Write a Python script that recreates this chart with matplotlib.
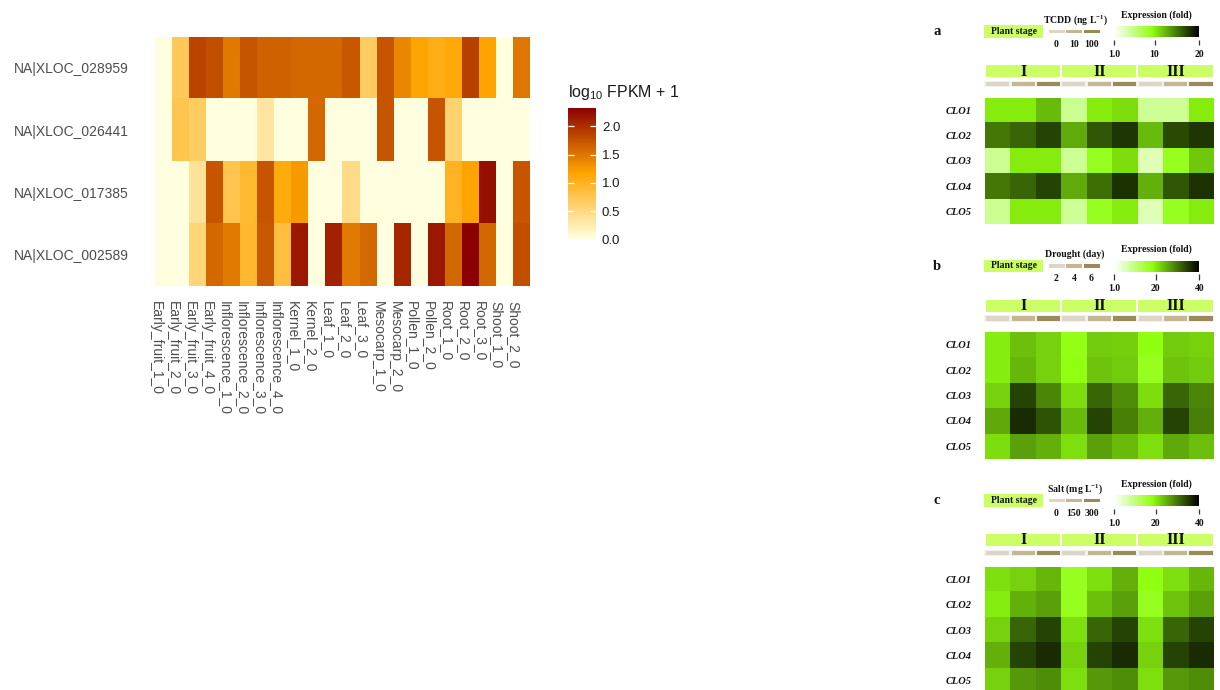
import numpy as np
import matplotlib
matplotlib.use("Agg")
import matplotlib.pyplot as plt
from matplotlib.colors import LinearSegmentedColormap, Normalize
from matplotlib.patches import Rectangle

plt.rcParams["font.family"] = ["Liberation Sans", "DejaVu Sans"]

# ---------------- tissue expression (log10 FPKM + 1) ----------------
samples = ["Early_fruit_1_0", "Early_fruit_2_0", "Early_fruit_3_0", "Early_fruit_4_0",
           "Inflorescence_1_0", "Inflorescence_2_0", "Inflorescence_3_0", "Inflorescence_4_0",
           "Kernel_1_0", "Kernel_2_0", "Leaf_1_0", "Leaf_2_0", "Leaf_3_0",
           "Mesocarp_1_0", "Mesocarp_2_0", "Pollen_1_0", "Pollen_2_0",
           "Root_1_0", "Root_2_0", "Root_3_0", "Shoot_1_0", "Shoot_2_0"]
genes = ["NA|XLOC_028959", "NA|XLOC_026441", "NA|XLOC_017385", "NA|XLOC_002589"]
xloc_028959 = [0.00, 0.70, 1.84, 1.76, 1.46, 1.72, 1.64, 1.64, 1.58, 1.58, 1.58,
               1.70, 0.66, 1.72, 1.36, 1.16, 1.05, 1.12, 1.87, 1.16, 0.00, 1.48]
xloc_026441 = [0.00, 0.75, 0.66, 0.00, 0.00, 0.00, 0.33, 0.00, 0.00, 1.59, 0.00,
               0.00, 0.00, 1.72, 0.00, 0.00, 1.72, 0.58, 0.00, 0.00, 0.00, 0.00]
xloc_017385 = [0.00, 0.00, 0.37, 1.72, 0.75, 0.91, 1.72, 1.08, 1.24, 0.00, 0.00,
               0.46, 0.00, 0.00, 0.00, 0.00, 0.00, 0.98, 1.16, 2.21, 0.00, 1.72]
xloc_002589 = [0.00, 0.00, 0.54, 1.59, 1.45, 0.91, 1.69, 0.83, 2.15, 0.00, 2.08,
               1.45, 1.59, 0.00, 2.04, 0.00, 2.15, 1.59, 2.32, 1.59, 0.00, 1.76]
legend_ticks = [0.0, 0.5, 1.0, 1.5, 2.0]

# ---------------- CLO fold-change panels ----------------
clo_genes = ["CLO1", "CLO2", "CLO3", "CLO4", "CLO5"]
stages = ["I", "II", "III"]
panel_letters = ["a", "b", "c"]
treatments = ["TCDD (ng L$\\mathregular{^{-1}}$)", "Drought (day)", "Salt (mg L$\\mathregular{^{-1}}$)"]
dose_labels = [["0", "10", "100"], ["2", "4", "6"], ["0", "150", "300"]]
fold_max = [20, 40, 40]
fold_ticks = [[1, 10, 20], [1, 20, 40], [1, 20, 40]]
fold_ticklabels = [["1.0", "10", "20"], ["1.0", "20", "40"], ["1.0", "20", "40"]]
tcdd_fold = [[10.3, 10.3, 12.3, 4.9, 10.3, 10.9, 4.8, 4.8, 10.3],
             [15.1, 15.8, 17.2, 13.0, 16.5, 17.7, 12.3, 16.9, 17.7],
             [4.9, 10.3, 10.3, 4.8, 9.0, 10.9, 3.6, 9.0, 11.8],
             [15.1, 15.8, 17.2, 13.0, 15.4, 17.9, 12.8, 16.5, 17.9],
             [4.9, 10.3, 10.3, 4.8, 9.0, 10.3, 3.6, 9.0, 10.3]]
drought_fold = [[20.0, 23.7, 22.2, 18.2, 22.8, 22.5, 18.5, 22.8, 22.2],
                [20.0, 24.5, 22.2, 18.4, 23.5, 22.8, 17.4, 23.5, 22.8],
                [22.2, 34.3, 28.6, 21.4, 31.4, 28.2, 21.4, 31.4, 28.6],
                [25.7, 36.2, 32.9, 24.3, 34.3, 29.2, 25.2, 34.3, 29.2],
                [21.4, 26.5, 25.2, 21.2, 26.5, 24.3, 21.2, 25.7, 23.9]]
salt_fold = [[21.2, 22.2, 24.5, 17.4, 21.2, 25.2, 18.4, 21.2, 24.5],
             [20.0, 25.2, 26.5, 17.6, 23.7, 26.5, 17.4, 23.5, 26.5],
             [22.2, 31.4, 34.3, 21.2, 31.4, 34.3, 21.2, 31.4, 34.3],
             [25.2, 34.3, 36.2, 22.2, 34.3, 36.2, 22.2, 34.3, 36.2],
             [22.2, 27.1, 28.2, 21.2, 27.1, 28.2, 21.2, 27.1, 28.2]]
panel_values = [tcdd_fold, drought_fold, salt_fold]

# ---------------- figure helpers ----------------
W, H = 1220, 690
fig = plt.figure(figsize=(W / 100, H / 100), dpi=100)


def px_axes(x0, y0, x1, y1, **kw):
    return fig.add_axes([x0 / W, 1 - y1 / H, (x1 - x0) / W, (y1 - y0) / H], **kw)


def strip(ax):
    for s in ax.spines.values():
        s.set_visible(False)


# canvas for the annotation boxes and labels
deco = px_axes(0, 0, W, H)
deco.set_xlim(0, W)
deco.set_ylim(H, 0)
deco.axis("off")

# ---------------- tissue heatmap ----------------
fpkm_cmap = LinearSegmentedColormap.from_list("fpkm", ["#FFFFE0", "#FFA500", "#8B0000"])
mat = np.array([xloc_028959, xloc_026441, xloc_017385, xloc_002589])
vmax = mat.max()
fnorm = Normalize(0, vmax)

ax = px_axes(154.7, 36.7, 529.3, 286)
ax.imshow(mat, cmap=fpkm_cmap, norm=fnorm, aspect="auto", interpolation="nearest")
strip(ax)
ax.set_yticks(range(len(genes)))
ax.set_yticklabels(genes, fontsize=10, color="#4D4D4D", va="center_baseline")
ax.set_xticks(range(len(samples)))
ax.set_xticklabels(samples, fontsize=10, color="#4D4D4D", rotation=-90, ha="right", va="top")
ax.tick_params(axis="y", length=0, pad=19)
ax.tick_params(axis="x", length=0, pad=11)

# colour key
cax = px_axes(568.3, 108.3, 595.7, 239.5)
grad = np.linspace(vmax, 0, 300)[:, None]
cax.imshow(grad, cmap=fpkm_cmap, norm=fnorm, aspect="auto", extent=(0, 1, 0, vmax))
cax.set_xlim(0, 1)
cax.set_ylim(0, vmax)
strip(cax)
cax.hlines(legend_ticks, 0, 0.2, color="white", lw=0.9)
cax.hlines(legend_ticks, 0.8, 1, color="white", lw=0.9)
cax.set_xticks([])
cax.yaxis.tick_right()
cax.set_yticks(legend_ticks)
cax.set_yticklabels([f"{t:.1f}" for t in legend_ticks], fontsize=9.5, color="#1A1A1A")
cax.tick_params(axis="y", length=0, pad=4.5)
fig.text(568 / W, 1 - 92 / H, r"$\mathregular{log_{10}}$ FPKM + 1", fontsize=11.5,
         ha="left", va="center", color="#1A1A1A")

# ---------------- CLO panels ----------------
expr_cmap = LinearSegmentedColormap.from_list(
    "expr", [(0.0, "#FFFFFF"), (0.45, "#90FF10"), (1.0, "#000000")])
stage_green = "#CCFF66"
dose_colors = ["#DDD6C4", "#C4B691", "#9A8A5A"]
serif = ["Liberation Serif", "DejaVu Serif"]
bold = dict(fontfamily=serif, fontweight="bold", color="#111111")

HM_X0, HM_X1 = 985.0, 1213.7
colw = (HM_X1 - HM_X0) / 9
dose_x = [1056.5, 1074.0, 1091.5]

for k in range(3):
    dy = k * 234.5
    deco.text(937, 31.5 + dy, panel_letters[k], fontsize=10.5, ha="center", va="center", **bold)
    deco.add_patch(Rectangle((984.3, 25 + dy), 59, 12.7, color=stage_green, lw=0))
    deco.text(1013.8, 31.5 + dy, "Plant stage", fontsize=7, ha="center", va="center", **bold)
    deco.text(1075, 20 + dy, treatments[k], fontsize=7, ha="center", va="center", **bold)
    for j, xc in enumerate(dose_x):
        deco.add_patch(Rectangle((xc - 8, 29.5 + dy), 16, 3.5, color=dose_colors[j], lw=0))
        deco.text(xc, 44.3 + dy, dose_labels[k][j], fontsize=7, ha="center", va="center", **bold)
    deco.text(1156, 15 + dy, "Expression (fold)", fontsize=7, ha="center", va="center", **bold)

    # fold-change colour key
    fmax = fold_max[k]
    enorm = Normalize(1, fmax)
    kax = px_axes(1114.3, 26.3 + dy, 1199.3, 45.3 + dy)
    kax.imshow(np.linspace(1, fmax, 256)[None, :], cmap=expr_cmap, norm=enorm,
               aspect="auto", extent=(1, fmax, 11, 0))
    kax.set_xlim(1, fmax)
    kax.set_ylim(19, 0)
    kax.axis("off")
    kax.vlines(fold_ticks[k], 13.4, 19, color="#333333", lw=0.9, clip_on=False)
    for v, lab in zip(fold_ticks[k], fold_ticklabels[k]):
        kax.text(v, 28, lab, fontsize=7, ha="center", va="center", **bold)

    # plant stage header and dose strip
    for s in range(3):
        x0 = HM_X0 + 3 * s * colw
        deco.add_patch(Rectangle((x0 + 0.5, 65 + dy), 3 * colw - 1.5, 12.3, color=stage_green, lw=0))
        deco.text(x0 + 1.5 * colw, 71.5 + dy, stages[s], fontsize=11.5, ha="center", va="center", **bold)
    deco.add_patch(Rectangle((HM_X0 - 1, 80.5 + dy), HM_X1 - HM_X0 + 1, 6.7, color="#F1F1F1", lw=0))
    for c in range(9):
        deco.add_patch(Rectangle((HM_X0 + c * colw + 1.2, 81.7 + dy), colw - 2.4, 4.3,
                                 color=dose_colors[c % 3], lw=0))

    # expression heatmap
    hax = px_axes(HM_X0, 97.7 + dy, HM_X1, 97.7 + dy + 126.6)
    hax.imshow(np.array(panel_values[k]), cmap=expr_cmap, norm=enorm,
               aspect="auto", interpolation="nearest")
    strip(hax)
    hax.set_xticks([])
    hax.set_yticks(range(len(clo_genes)))
    hax.set_yticklabels(clo_genes, fontsize=7.5, fontstyle="italic", fontfamily=serif,
                        fontweight="bold", color="#111111")
    hax.tick_params(axis="y", length=0, pad=9.4)

fig.savefig("out.png", dpi=100, facecolor="white")
